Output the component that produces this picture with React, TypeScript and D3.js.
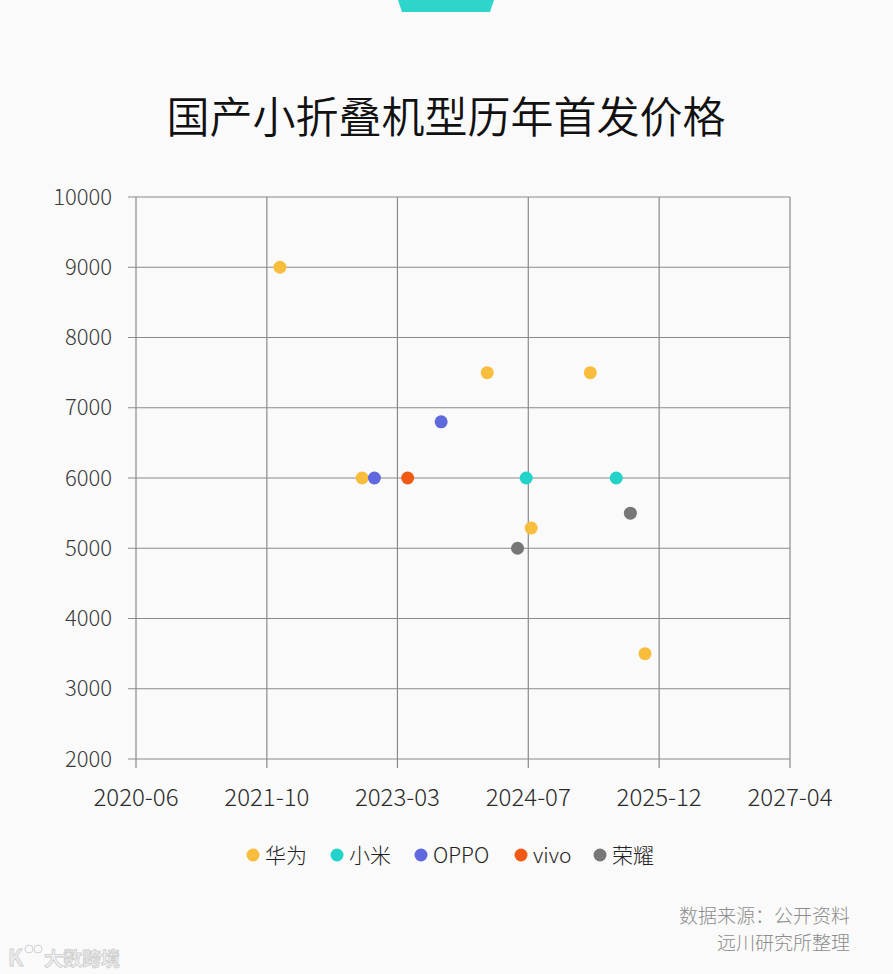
import React, { useRef, useEffect } from "react";
import * as d3 from "d3";

const brands = ["华为", "小米", "OPPO", "vivo", "荣耀"];
const brandColors = ["#F8BD3C", "#21D3C8", "#5F68DC", "#F05A14", "#777777"];

// launch date, brand, price (yuan)
const launchDates = [
  "2021-12-17", "2022-10-27", "2022-12-13", "2023-04-19", "2023-08-25",
  "2024-02-17", "2024-07-15", "2024-06-12", "2024-08-03", "2025-03-17",
  "2025-06-24", "2025-08-17", "2025-10-12",
];
const launchBrands = [
  "华为", "华为", "OPPO", "vivo", "OPPO",
  "华为", "小米", "荣耀", "华为", "华为",
  "小米", "荣耀", "华为",
];
const launchPrices = [9000, 6000, 6000, 6000, 6800, 7500, 6000, 5000, 5288, 7500, 6000, 5500, 3500];

const xTickDates = ["2020-06-15", "2021-10-28", "2023-03-11", "2024-07-23", "2025-12-05", "2027-04-19"];
const yTicks = [2000, 3000, 4000, 5000, 6000, 7000, 8000, 9000, 10000];

const title = "国产小折叠机型历年首发价格";
const sourceLines = ["数据来源：公开资料", "远川研究所整理"];

const FONT = "'Noto Sans CJK SC', 'Noto Sans', sans-serif";

const App: React.FC = () => {
  const svgRef = useRef<SVGSVGElement | null>(null);

  useEffect(() => {
    document.body.style.margin = "0";
    if (!svgRef.current) return;
    const width = 893;
    const height = 974;
    const svg = d3.select(svgRef.current);
    svg.selectAll("*").remove();
    svg.attr("width", width).attr("height", height);

    svg.append("rect").attr("width", width).attr("height", height).attr("fill", "#FAFAFA");

    // teal tab at top
    svg.append("path")
      .attr("d", "M398,0 L494,0 L490,12 L402,12 Z")
      .attr("fill", "#2ED5CB");

    svg.append("text")
      .attr("x", 446)
      .attr("y", 133)
      .attr("text-anchor", "middle")
      .attr("font-family", FONT)
      .attr("font-size", 43)
      .attr("font-weight", 350)
      .attr("fill", "#111")
      .text(title);

    const parse = d3.timeParse("%Y-%m-%d");
    const ticks = xTickDates.map((d) => parse(d) as Date);

    const margin = { left: 136, right: 103, top: 197, bottom: 215 };
    const x = d3.scaleTime()
      .domain([ticks[0], ticks[ticks.length - 1]])
      .range([margin.left, width - margin.right]);
    const y = d3.scaleLinear()
      .domain([2000, 10000])
      .range([height - margin.bottom, margin.top]);

    const grid = svg.append("g");
    const gridColor = "#8A8A8A";

    grid.selectAll("line.v")
      .data(ticks)
      .join("line")
      .attr("class", "v")
      .attr("x1", (d) => x(d))
      .attr("x2", (d) => x(d))
      .attr("y1", y(10000))
      .attr("y2", y(2000) + 9)
      .attr("stroke", gridColor)
      .attr("stroke-width", 1.2);

    grid.selectAll("line.h")
      .data(yTicks)
      .join("line")
      .attr("class", "h")
      .attr("x1", margin.left - 8)
      .attr("x2", width - margin.right)
      .attr("y1", (d) => y(d))
      .attr("y2", (d) => y(d))
      .attr("stroke", gridColor)
      .attr("stroke-width", 1.2);

    svg.append("g")
      .selectAll("text")
      .data(yTicks)
      .join("text")
      .attr("x", margin.left - 24)
      .attr("y", (d) => y(d))
      .attr("dy", "0.35em")
      .attr("text-anchor", "end")
      .attr("font-family", FONT)
      .attr("font-weight", 300)
      .attr("font-size", 22)
      .attr("fill", "#3A3A3A")
      .text((d) => String(d));

    const fmt = d3.timeFormat("%Y-%m");
    svg.append("g")
      .selectAll("text")
      .data(ticks)
      .join("text")
      .attr("x", (d) => x(d))
      .attr("y", 806)
      .attr("text-anchor", "middle")
      .attr("font-family", FONT)
      .attr("font-weight", 300)
      .attr("font-size", 24)
      .attr("fill", "#2A2A2A")
      .text((d) => fmt(d));

    const color = d3.scaleOrdinal<string, string>().domain(brands).range(brandColors);

    const points = launchDates.map((d, i) => ({
      date: parse(d) as Date,
      brand: launchBrands[i],
      price: launchPrices[i],
    }));

    svg.append("g")
      .selectAll("circle")
      .data(points)
      .join("circle")
      .attr("cx", (d) => x(d.date))
      .attr("cy", (d) => y(d.price))
      .attr("r", 6.5)
      .attr("fill", (d) => color(d.brand));

    // legend
    const legendX = [253, 337, 421, 521, 600];
    const legend = svg.append("g")
      .selectAll("g")
      .data(brands)
      .join("g")
      .attr("transform", (_, i) => `translate(${legendX[i]},855)`);
    legend.append("circle")
      .attr("r", 6.5)
      .attr("fill", (d) => color(d));
    legend.append("text")
      .attr("x", 12)
      .attr("dy", "0.38em")
      .attr("font-family", FONT)
      .attr("font-weight", 300)
      .attr("font-size", 21)
      .attr("fill", "#222")
      .text((d) => d);

    svg.append("g")
      .selectAll("text")
      .data(sourceLines)
      .join("text")
      .attr("x", 850)
      .attr("y", (_, i) => 923 + i * 27)
      .attr("text-anchor", "end")
      .attr("font-family", FONT)
      .attr("font-weight", 300)
      .attr("font-size", 19)
      .attr("fill", "#8C8C8C")
      .text((d) => d);

    // watermark
    const wm = svg.append("g").attr("opacity", 0.75);
    wm.append("text")
      .attr("x", 8)
      .attr("y", 966)
      .attr("font-family", FONT)
      .attr("font-size", 22)
      .attr("font-weight", 700)
      .attr("fill", "#E6E6E6")
      .attr("stroke", "#C4C4C4")
      .attr("stroke-width", 0.8)
      .text("K");
    wm.append("circle").attr("cx", 29).attr("cy", 949).attr("r", 4).attr("fill", "none").attr("stroke", "#C4C4C4");
    wm.append("circle").attr("cx", 38).attr("cy", 949).attr("r", 4).attr("fill", "none").attr("stroke", "#C4C4C4");
    wm.append("text")
      .attr("x", 44)
      .attr("y", 966)
      .attr("font-family", FONT)
      .attr("font-size", 19)
      .attr("font-weight", 700)
      .attr("fill", "#EEEEEE")
      .attr("stroke", "#BDBDBD")
      .attr("stroke-width", 0.8)
      .text("大数跨境");
  }, []);

  return <svg ref={svgRef} style={{ display: "block" }} />;
};

export default App;
